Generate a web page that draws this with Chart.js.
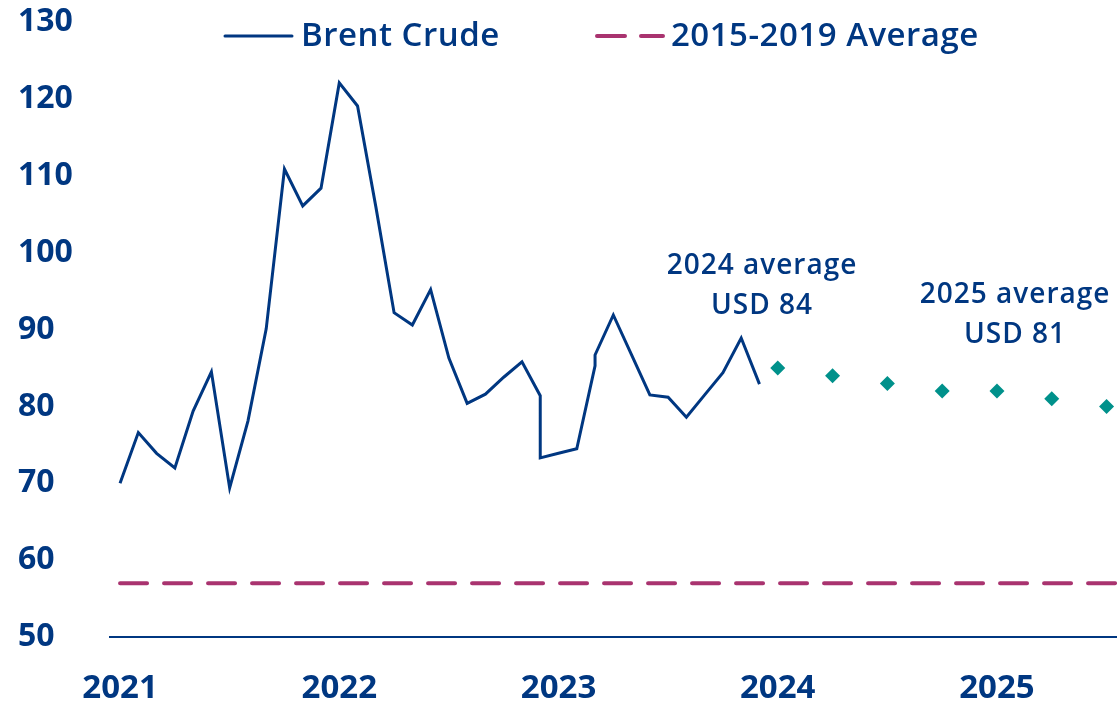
<!DOCTYPE html>
<html lang="en">
<head>
    <meta charset="UTF-8">
    <title>Brent Crude</title>
    <script src="https://cdn.jsdelivr.net/npm/chart.js"></script>
    <style>
        body { margin: 0; background: #fff; }
        #chartBox { width: 1117px; height: 702px; }
    </style>
</head>
<body>
    <div id="chartBox"><canvas id="oilChart"></canvas></div>

    <script>
        // months counted from Jan 2021
        const brentMonths = [0, 1, 2, 3, 4, 5, 6, 7, 8, 9, 10, 11, 12, 13, 14, 15, 16, 17, 18, 19, 20, 21, 22, 23, 23, 24, 25, 26, 26, 27, 28, 29, 30, 31, 32, 33, 34, 35];
        const brentPrices = [70.0, 76.6, 73.9, 72.0, 79.4, 84.5, 69.4, 78.1, 90.1, 110.9, 106.1, 108.4, 122.1, 119.1, 106.0, 92.2, 90.6, 95.2, 86.3, 80.4, 81.6, 83.8, 85.8, 81.4, 73.3, 73.9, 74.5, 85.3, 86.7, 91.9, 86.7, 81.5, 81.2, 78.6, 81.5, 84.4, 88.9, 82.9];

        const forecastMonths = [36, 39, 42, 45, 48, 51, 54];
        const forecastPrices = [85, 84, 83, 82, 82, 81, 80];

        const avgMonths = [0, 54.6];
        const avgPrice = 57;

        const yearTicks = [0, 12, 24, 36, 48];
        const yearLabels = ['2021', '2022', '2023', '2024', '2025'];

        const legendLabels = ['Brent Crude', '2015-2019 Average'];
        const notes = [
            { lines: ['2024 average', 'USD 84'], month: 35.14, value: 97.2 },
            { lines: ['2025 average', 'USD 81'], month: 48.99, value: 93.45 }
        ];

        const NAVY = '#003781';
        const MAGENTA = '#A9336F';
        const TEAL = '#00918B';
        const FONT = "'Open Sans', sans-serif";

        const toPoints = (xs, ys) => xs.map((x, i) => ({ x: x, y: Array.isArray(ys) ? ys[i] : ys }));

        // legend and text notes drawn on top of the plot
        const overlayPlugin = {
            id: 'overlay',
            afterDraw(chart) {
                const ctx = chart.ctx;
                const xs = chart.scales.x;
                const ys = chart.scales.y;
                ctx.save();

                // legend
                ctx.lineCap = 'round';
                ctx.strokeStyle = NAVY;
                ctx.lineWidth = 3;
                ctx.beginPath();
                ctx.moveTo(225, 36);
                ctx.lineTo(292, 36);
                ctx.stroke();

                ctx.strokeStyle = MAGENTA;
                ctx.lineWidth = 4;
                ctx.setLineDash([28, 16]);
                ctx.beginPath();
                ctx.moveTo(597, 36);
                ctx.lineTo(663, 36);
                ctx.stroke();
                ctx.setLineDash([]);

                ctx.fillStyle = NAVY;
                ctx.font = `600 33px ${FONT}`;
                ctx.letterSpacing = '0.5px';
                ctx.textBaseline = 'alphabetic';
                ctx.textAlign = 'left';
                ctx.fillText(legendLabels[0], 301, 46);
                ctx.fillText(legendLabels[1], 671, 46);

                // averages
                ctx.font = `600 28px ${FONT}`;
                ctx.letterSpacing = '1px';
                ctx.textAlign = 'center';
                notes.forEach(n => {
                    const px = xs.getPixelForValue(n.month);
                    const py = ys.getPixelForValue(n.value);
                    n.lines.forEach((line, i) => ctx.fillText(line, px, py + i * 40));
                });
                ctx.restore();
            }
        };

        new Chart(document.getElementById('oilChart'), {
            type: 'line',
            data: {
                datasets: [
                    {
                        label: legendLabels[0],
                        data: toPoints(brentMonths, brentPrices),
                        borderColor: NAVY,
                        borderWidth: 3,
                        pointRadius: 0,
                        tension: 0
                    },
                    {
                        label: legendLabels[1],
                        data: toPoints(avgMonths, avgPrice),
                        borderColor: MAGENTA,
                        borderWidth: 4,
                        borderDash: [27, 17],
                        borderCapStyle: 'round',
                        pointRadius: 0
                    },
                    {
                        label: 'Forecast',
                        data: toPoints(forecastMonths, forecastPrices),
                        showLine: false,
                        pointStyle: 'rectRot',
                        pointRadius: 7.5,
                        pointBackgroundColor: TEAL,
                        pointBorderWidth: 0,
                        clip: false
                    }
                ]
            },
            options: {
                responsive: true,
                maintainAspectRatio: false,
                animation: false,
                layout: { autoPadding: false, padding: { top: 22, left: 18, right: 0, bottom: 0 } },
                plugins: {
                    legend: { display: false },
                    tooltip: { enabled: false }
                },
                scales: {
                    x: {
                        type: 'linear',
                        min: -0.55,
                        max: 54.57,
                        grid: { display: false },
                        border: { color: NAVY, width: 2 },
                        afterBuildTicks: (scale) => { scale.ticks = yearTicks.map(v => ({ value: v })); },
                        afterFit: (scale) => {
                            scale.height = 65;
                            scale.paddingLeft = 0;
                            scale.paddingRight = 0;
                        },
                        ticks: {
                            padding: 27,
                            color: NAVY,
                            font: { family: FONT, size: 33, weight: 'bold', lineHeight: 1 },
                            callback: (v) => yearLabels[yearTicks.indexOf(v)]
                        }
                    },
                    y: {
                        min: 50,
                        max: 130,
                        grid: { display: false },
                        border: { display: false },
                        afterFit: (scale) => { scale.width = 92; },
                        ticks: {
                            stepSize: 10,
                            crossAlign: 'far',
                            color: NAVY,
                            font: { family: FONT, size: 32, weight: 'bold' }
                        }
                    }
                }
            },
            plugins: [overlayPlugin]
        });
    </script>
</body>
</html>
